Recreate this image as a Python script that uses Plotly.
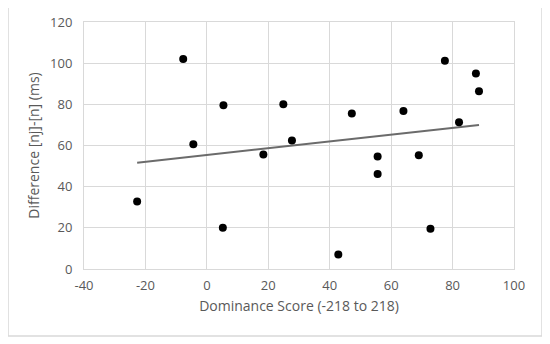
import numpy as np
import plotly.graph_objects as go

dominance = [-22.7, -7.7, -4.4, 5.4, 5.2, 18.4, 24.9, 27.7, 42.8, 47.2,
             55.6, 55.6, 64.0, 69.0, 72.8, 77.5, 82.1, 87.6, 88.6]
difference = [32.8, 102.0, 60.6, 79.6, 20.1, 55.6, 80.0, 62.4, 7.0, 75.6,
              54.7, 46.2, 76.8, 55.3, 19.5, 101.2, 71.3, 95.0, 86.4]
x_ticks = [-40, -20, 0, 20, 40, 60, 80, 100]
x_tick_labels = ["-40", "-20", "0", "20", "40", "60", "80", "100"]
y_ticks = [0, 20, 40, 60, 80, 100, 120]
y_tick_labels = ["0", "20", "40", "60", "80", "100", "120"]

slope, intercept = np.polyfit(dominance, difference, 1)
tx = [min(dominance), max(dominance)]
ty = [slope * v + intercept for v in tx]

font = "Open Sans, Liberation Sans, sans-serif"
fig = go.Figure()
fig.add_trace(go.Scatter(x=tx, y=ty, mode="lines",
                         line=dict(color="#6b6b6b", width=2), showlegend=False))
fig.add_trace(go.Scatter(x=dominance, y=difference, mode="markers",
                         marker=dict(color="black", size=8), showlegend=False))

fig.update_layout(
    width=542, height=336,
    margin=dict(l=76, r=36, t=14, b=75),
    paper_bgcolor="white", plot_bgcolor="white",
    font=dict(family=font, color="#595959", size=13),
    xaxis=dict(range=[-40, 100], tickvals=x_ticks, ticktext=x_tick_labels,
               showgrid=True, automargin=False,
               gridcolor="#d9d9d9", gridwidth=1, zeroline=False,
               showline=True, linecolor="#d9d9d9", mirror=True,
               ticks="", ticklabelstandoff=4,
               tickfont=dict(size=13, color="#595959"),
               title=dict(text="Dominance Score (-218 to 218)",
                          font=dict(size=14, color="#595959"), standoff=8)),
    yaxis=dict(range=[0, 120], tickvals=y_ticks, ticktext=y_tick_labels,
               showgrid=True, automargin=False,
               gridcolor="#d9d9d9", gridwidth=1, zeroline=False,
               showline=True, linecolor="#d9d9d9", mirror=True,
               ticks="", ticklabelstandoff=8,
               tickfont=dict(size=13, color="#595959"),
               title=dict(text="Difference [nj]-[n] (ms)",
                          font=dict(size=14, color="#595959"), standoff=7)),
    shapes=[dict(type="rect", xref="paper", yref="paper",
                 x0=-0.1767, x1=1.0651, y0=-0.271, y1=1.0648,
                 line=dict(color="#d9d9d9", width=1.5), layer="below")],
)
fig.write_html("out.html")
